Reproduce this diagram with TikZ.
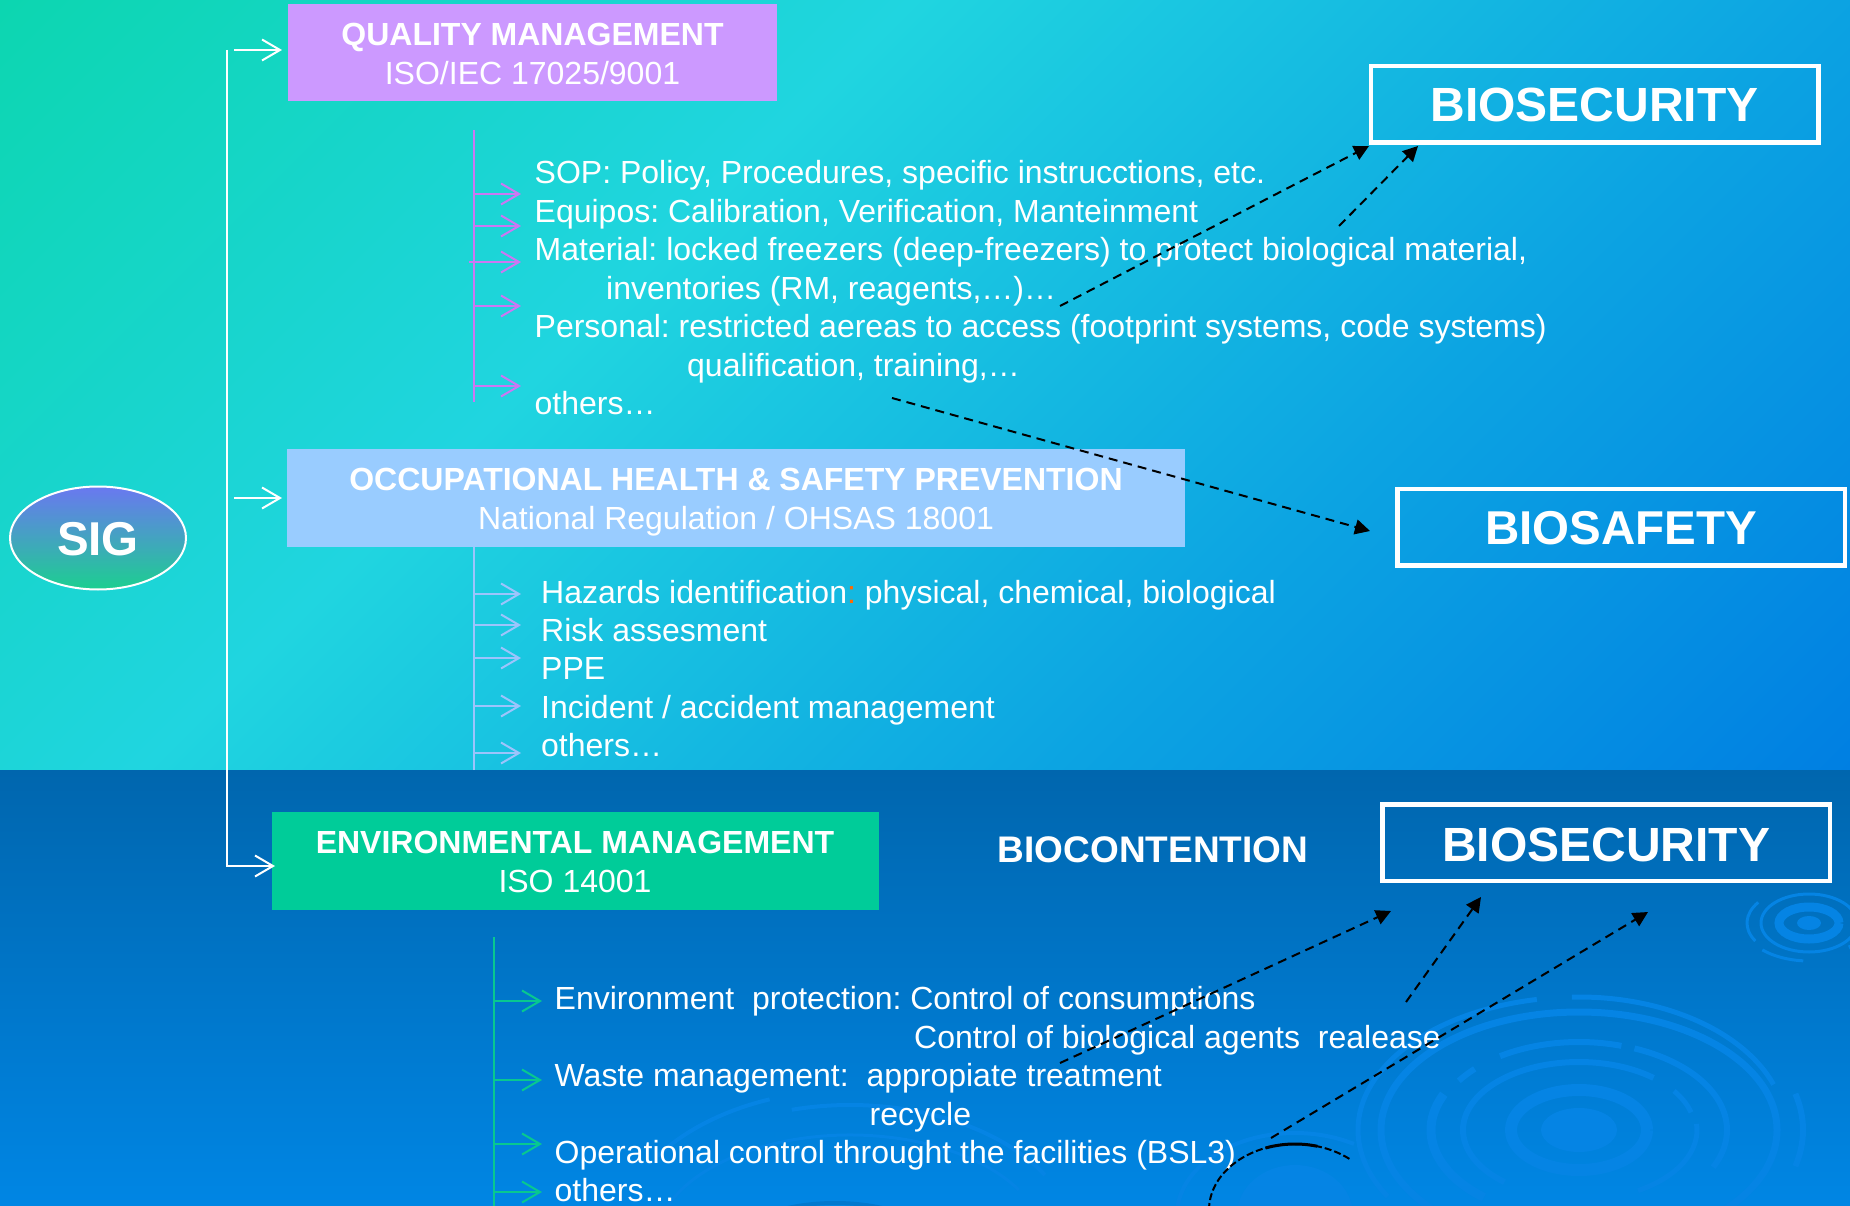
\documentclass[tikz,border=0pt]{standalone}
\usepackage{fontspec}
\setmainfont{Liberation Sans}
\usetikzlibrary{arrows.meta,shapes.geometric}
\definecolor{bgA}{HTML}{0CD6B0}
\definecolor{bgB}{HTML}{20D5E0}
\definecolor{bgC}{HTML}{0CA4E2}
\definecolor{bgD}{HTML}{007FE2}
\definecolor{lowTop}{HTML}{0066AE}
\definecolor{lowBot}{HTML}{0086E4}
\definecolor{ripple}{HTML}{0584E4}
\definecolor{rippleDk}{HTML}{0078CE}
\definecolor{qualbox}{HTML}{CC99FF}
\definecolor{occbox}{HTML}{99CCFF}
\definecolor{envbox}{HTML}{00CC99}
\definecolor{qualline}{HTML}{CC77F2}
\definecolor{occline}{HTML}{9CC4FC}
\definecolor{envline}{HTML}{08C890}
\definecolor{sigtop}{HTML}{6A78F0}
\definecolor{sigbot}{HTML}{1CCF90}
\definecolor{colon}{HTML}{FF6A00}
\pgfdeclarehorizontalshading{bgupper}{100bp}{color(0bp)=(bgA); color(3.85bp)=(bgA); color(36bp)=(bgB); color(68bp)=(bgC); color(96.15bp)=(bgD); color(100bp)=(bgD)}
\newcommand{\rr}[7]{\draw[line width=#7] ([shift={(#5:#3 and #4)}]#1,#2) arc[start angle=#5,end angle=#6,x radius=#3,y radius=#4];}
\tikzset{
  bodytext/.style={anchor=base west,inner sep=0pt,text=white,font=\frenchspacing\fontsize{32}{39}\selectfont},
  headbox/.style={rectangle,inner sep=0pt,text=white,align=center,font=\frenchspacing\fontsize{32}{39}\selectfont},
  titlebox/.style={rectangle,draw=white,line width=4.5pt,inner sep=0pt,text=white,font=\bfseries\fontsize{48}{56}\selectfont,text depth=0pt},
  whitearrow/.style={draw=white,line width=2pt,-{Straight Barb[length=18pt,width=21pt,line width=2pt]}},
  qualarrow/.style={draw=qualline,line width=2pt,-{Straight Barb[length=18pt,width=21pt,line width=2pt]}},
  occarrow/.style={draw=occline,line width=2pt,-{Straight Barb[length=18pt,width=21pt,line width=2pt]}},
  envarrow/.style={draw=envline,line width=2pt,-{Straight Barb[length=18pt,width=21pt,line width=2pt]}},
  dasharrow/.style={draw=black,line width=2pt,dash pattern=on 9pt off 6pt,-{Triangle[length=15pt,width=15pt]}},
}
\newcommand{\hd}[3]{\rule{0pt}{30pt}\textbf{#1}\\#2\rule[-#3pt]{0pt}{#3pt}}
\begin{document}
\begin{tikzpicture}[x=1pt,y=-1pt]
\useasboundingbox (0,0) rectangle (1850,1206);
% upper background
\begin{scope}
\clip (0,0) rectangle (1850,770);
\begin{pgfscope}
\pgftransformshift{\pgfpoint{925pt}{-385pt}}
\pgftransformrotate{-45}
\pgftransformscale{20}
\pgflowlevelsynccm
\pgftext{\pgfuseshading{bgupper}}
\end{pgfscope}
\end{scope}
% lower background and ripples
\begin{scope}
\clip (0,770) rectangle (1850,1206);
\fill[top color=lowTop,bottom color=lowBot] (0,770) rectangle (1850,1206);
\begin{scope}[draw=ripple]
% large ripple
\rr{1579}{1130}{221}{133}{150}{259}{5pt}
\rr{1579}{1130}{207}{133}{268}{340}{5pt}
\rr{1579}{1130}{224}{140}{345}{375}{6pt}
\rr{1579}{1130}{198}{118}{0}{360}{7pt}
\rr{1579}{1130}{145}{88}{237}{287}{6pt}
\rr{1579}{1130}{148}{88}{292}{385}{6pt}
\rr{1579}{1130}{145}{88}{214}{224}{6pt}
\rr{1579}{1130}{148}{88}{130}{204}{9pt}
\rr{1579}{1130}{116}{68}{130}{310}{6pt}
\rr{1579}{1130}{116}{68}{325}{345}{5pt}
\rr{1579}{1130}{118}{70}{355}{420}{5pt}
\rr{1579}{1130}{68}{40}{0}{360}{12pt}
\fill[ripple] (1579,1130) ellipse [x radius=38,y radius=22];
% small ripple
\rr{1809}{923}{48}{29}{0}{360}{3pt}
\rr{1809}{923}{62}{36}{150}{215}{3pt}
\rr{1809}{923}{66}{38}{95}{135}{3pt}
\rr{1809}{923}{62}{32}{20}{50}{4pt}
\rr{1809}{923}{30}{16}{0}{360}{9pt}
\fill[ripple] (1809,923) ellipse [x radius=12,y radius=7];
% ripple at lower edge
\fill[ripple] (1295,1215) ellipse [x radius=58,y radius=50];
\rr{1295}{1215}{118}{82}{180}{300}{4pt}
% ripple in the middle
\rr{850}{1245}{235}{155}{215}{250}{4pt}
\rr{850}{1245}{225}{140}{255}{330}{4pt}
\rr{850}{1245}{195}{110}{200}{330}{3pt}
\end{scope}
\begin{scope}[draw=rippleDk]
\rr{835}{1245}{100}{42}{215}{330}{4pt}
\end{scope}
\end{scope}
% boxes
\node[headbox,fill=qualbox,minimum width=489pt,minimum height=97pt] (qual) at (532.5,52.5) {\hd{QUALITY MANAGEMENT}{ISO/IEC 17025/9001}{5}};
\node[headbox,fill=occbox,minimum width=898pt,minimum height=98pt] (occ) at (736,498) {\hd{OCCUPATIONAL HEALTH \& SAFETY PREVENTION}{National Regulation / OHSAS 18001}{3}};
\node[headbox,fill=envbox,minimum width=607pt,minimum height=98pt] (env) at (575,861) {\hd{ENVIRONMENTAL MANAGEMENT}{ISO 14001}{6}};
\node[ellipse,draw=white,line width=2pt,top color=sigtop,bottom color=sigbot,minimum width=176pt,minimum height=103pt,inner sep=0pt,text=white,font=\bfseries\fontsize{47.5}{50}\selectfont,text height=35pt,text depth=0pt] (sig) at (98,538) {SIG};
\node[titlebox,minimum width=447.5pt,minimum height=76.5pt,text height=35pt] (bsec) at (1594.5,104.5) {BIOSECURITY};
\node[titlebox,minimum width=447.5pt,minimum height=76.5pt,text height=35pt,font=\bfseries\fontsize{47.5}{56}\selectfont] (bsafe) at (1621,527) {BIOSAFETY};
\node[titlebox,minimum width=447.5pt,minimum height=76.5pt,text height=37pt] (bsec2) at (1606,842.5) {BIOSECURITY};
\node[anchor=base,inner sep=0pt,text=white,font=\bfseries\fontsize{37}{42}\selectfont] (bcont) at (1153,862.5) {BIOCONTENTION};
% main trunk
\coordinate (t1s) at (227,50);
\coordinate (a1s) at (234,50);
\coordinate (a1e) at (282,50);
\coordinate (a2s) at (234,498);
\coordinate (a2e) at (282,498);
\coordinate (t3c) at (227,866);
\coordinate (t3e) at (275,866);
\draw[whitearrow] (a1s) -- (a1e);
\draw[whitearrow] (a2s) -- (a2e);
\draw[whitearrow] (t1s) -- (t3c) -- (t3e);
% quality list
\coordinate (q0) at (474,130);
\coordinate (q9) at (474,402);
\draw[draw=qualline,line width=2pt] (q0) -- (q9);
\foreach \n/\ys/\xs in {1/194/474,2/226/474,3/262/469,4/306/474,5/386/474}{
  \coordinate (qs\n) at (\xs,\ys);
  \coordinate (qe\n) at (521,\ys);
  \draw[qualarrow] (qs\n) -- (qe\n);
}
\node[bodytext] (l1) at (534.5,184) {SOP: Policy, Procedures, specific instrucctions, etc.};
\node[bodytext] (l2) at (534.5,223) {Equipos: Calibration, Verification, Manteinment};
\node[bodytext] (l3) at (534.5,261) {Material: locked freezers (deep-freezers) to protect biological material,};
\node[bodytext] (l4) at (606,300) {inventories (RM, reagents,…)…};
\node[bodytext] (l5) at (534.5,337.5) {Personal: restricted aereas to access (footprint systems, code systems)};
\node[bodytext] (l6) at (687,376) {qualification, training,…};
\node[bodytext] (l7) at (534.5,414.5) {others…};
% occupational list
\coordinate (o9) at (474,770);
\draw[draw=occline,line width=2pt] (occ.south -| o9) -- (o9);
\foreach \n/\ys in {1/594,2/625,3/658,4/706,5/753}{
  \coordinate (os\n) at (474,\ys);
  \coordinate (oe\n) at (521,\ys);
  \draw[occarrow] (os\n) -- (oe\n);
}
\node[bodytext] (m1) at (541,603) {Hazards identification{\color{colon}:} physical, chemical, biological};
\node[bodytext] (m2) at (541,641) {Risk assesment};
\node[bodytext] (m3) at (541,679) {PPE};
\node[bodytext] (m4) at (541,718) {Incident / accident management};
\node[bodytext] (m5) at (541,756) {others…};
% environment list
\coordinate (e0) at (494,937);
\coordinate (e9) at (494,1206);
\draw[draw=envline,line width=2pt] (e0) -- (e9);
\foreach \n/\ys in {1/1001,2/1080,3/1144,4/1192}{
  \coordinate (es\n) at (494,\ys);
  \coordinate (ee\n) at (542,\ys);
  \draw[envarrow] (es\n) -- (ee\n);
}
\node[bodytext] (n1) at (554.5,1009) {Environment\ \ protection: Control of consumptions};
\node[bodytext] (n2) at (914,1048) {Control of biological agents\ \ realease};
\node[bodytext] (n3) at (554.5,1086) {Waste management:\ \ appropiate treatment};
\node[bodytext] (n4) at (869.5,1125) {recycle};
\node[bodytext] (n5) at (554.5,1163) {Operational control throught the facilities (BSL3)};
\node[bodytext] (n6) at (554.5,1201) {others…};
% dashed arrows
\coordinate (d1s) at (1060,306);
\coordinate (d1e) at (1369,146);
\coordinate (d2s) at (1339,226);
\coordinate (d2e) at (1418,146);
\coordinate (d3s) at (892,398);
\coordinate (d3e) at (1370,531);
\coordinate (d4s) at (1060,1063);
\coordinate (d4e) at (1391,911);
\coordinate (d5s) at (1406,1002);
\coordinate (d5e) at (1481,897);
\coordinate (d6s) at (1271,1138);
\coordinate (d6e) at (1648,912);
\draw[dasharrow] (d1s) -- (d1e);
\draw[dasharrow] (d2s) -- (d2e);
\draw[dasharrow] (d3s) -- (d3e);
\draw[dasharrow] (d4s) -- (d4e);
\draw[dasharrow] (d5s) -- (d5e);
\draw[dasharrow] (d6s) -- (d6e);
% black arc
\begin{scope}
\clip (0,770) rectangle (1850,1206);
\draw[black,line width=2pt,dash pattern=on 7pt off 3pt] (1209,1210) arc[start angle=180,end angle=310,x radius=86,y radius=66];
\draw[black,line width=3pt] ([shift={(250:86 and 66)}]1295,1210) arc[start angle=250,end angle=285,x radius=86,y radius=66];
\end{scope}
\end{tikzpicture}
\end{document}
